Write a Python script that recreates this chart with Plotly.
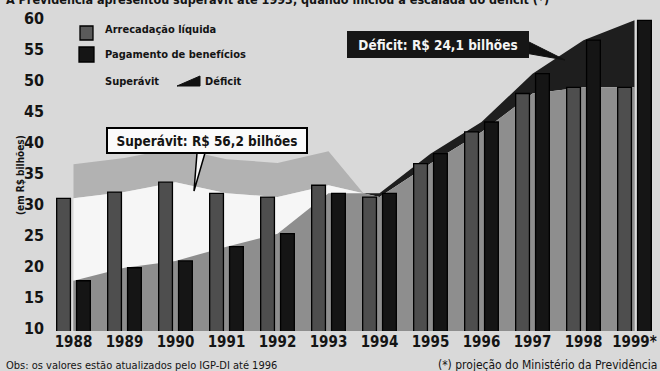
import numpy as np
import plotly.graph_objects as go

# Receita x despesa da Previdência, em R$ bilhões
anos = ["1988", "1989", "1990", "1991", "1992", "1993",
        "1994", "1995", "1996", "1997", "1998", "1999*"]
arrecadacao = [31.0, 32.0, 33.6, 31.8, 31.2, 33.1,
               31.2, 36.6, 41.7, 47.9, 48.9, 48.9]
pagamento = [17.7, 19.8, 20.9, 23.2, 25.3, 31.8,
             31.8, 38.2, 43.3, 51.1, 56.5, 59.7]
y_ticks = [10, 15, 20, 25, 30, 35, 40, 45, 50, 55, 60]

W, H = 660, 371
ML, MR, MT, MB = 48, 0, 11, 40
PW, PH = W - ML - MR, H - MT - MB
Y0, Y1 = 9.6, 61.2
DEPTH = 5.5  # visual thickness of the ribbon's top face, in axis units

FONT = "Liberation Sans Narrow, DejaVu Sans Condensed, Arial Narrow, Liberation Sans, sans-serif"
INK = "#141414"


def px(x):
    return (x - ML) / PW


def py(y):
    return (MT + PH - y) / PH


x = np.arange(len(anos))
arr = np.array(arrecadacao)
pag = np.array(pagamento)

# lower envelope of the two series, with the crossing point added
lx, ly = [], []
cross = None
for i in range(len(x)):
    lx.append(float(x[i]))
    ly.append(float(min(arr[i], pag[i])))
    if i < len(x) - 1:
        d0 = arr[i] - pag[i]
        d1 = arr[i + 1] - pag[i + 1]
        if d0 * d1 < 0:
            t = d0 / (d0 - d1)
            xc = float(x[i] + t)
            yc = float(arr[i] + t * (arr[i + 1] - arr[i]))
            lx.append(xc)
            ly.append(yc)
            if cross is None:
                cross = (i, xc, yc)


def area_path(xs, ys):
    pts = [f"M {xs[0]},{Y0}"] + [f"L {a},{b}" for a, b in zip(xs, ys)] + [f"L {xs[-1]},{Y0} Z"]
    return " ".join(pts)


shapes = []

# shaded top face of the ribbon over the surplus years, closing at the crossing
ci, cx, cy = cross
top_x = [float(v) for v in x[:ci + 1]]
top_y = [float(v) for v in arr[:ci + 1]]
band = [f"M {top_x[0]},{top_y[0]}"] + [f"L {a},{b}" for a, b in zip(top_x[1:], top_y[1:])]
band += [f"L {cx},{cy}"]
band += [f"L {a},{b + DEPTH}" for a, b in zip(top_x[::-1], top_y[::-1])] + ["Z"]
shapes.append(dict(type="path", xref="x", yref="y", layer="below", path=" ".join(band),
                   fillcolor="#b2b2b2", line=dict(width=0)))

# ribbon behind the bars: black where spending exceeds revenue, white where revenue is higher
for xs, ys, col in [(x, pag, "#1e1e1e"), (x, arr, "#f6f6f6"), (lx, ly, "#8e8e8e")]:
    shapes.append(dict(type="path", xref="x", yref="y", layer="below",
                       path=area_path(list(map(float, xs)), list(map(float, ys))),
                       fillcolor=col, line=dict(width=0)))

fig = go.Figure()
fig.add_trace(go.Bar(x=x, y=arr, width=0.27, offset=-0.33,
                     marker=dict(color="#4e4e4e", line=dict(color="#000", width=1.3)),
                     name="Arrecadação líquida"))
fig.add_trace(go.Bar(x=x, y=pag, width=0.27, offset=0.06,
                     marker=dict(color="#151515", line=dict(color="#000", width=1.3)),
                     name="Pagamento de benefícios"))

ann = []


def note(text, xx, yy, **kw):
    d = dict(text=text, x=px(xx), y=py(yy), xref="paper", yref="paper",
             showarrow=False, yanchor="middle")
    d.update(kw)
    ann.append(d)


# title line at the very top
note("<b>A Previdência apresentou superávit até 1993, quando iniciou a escalada do déficit (*)</b>",
     4, 0, xanchor="left", font=dict(size=12.5, color=INK, family=FONT))

# legend
shapes.append(dict(type="rect", xref="paper", yref="paper",
                   x0=px(80), x1=px(93), y0=py(40), y1=py(26),
                   fillcolor="#5a5a5a", line=dict(color="#000", width=1.3)))
shapes.append(dict(type="rect", xref="paper", yref="paper",
                   x0=px(79), x1=px(94), y0=py(62), y1=py(47),
                   fillcolor="#151515", line=dict(color="#000", width=1.3)))
shapes.append(dict(type="path", xref="paper", yref="paper",
                   path=f"M {px(177)},{py(86)} L {px(200)},{py(76)} L {px(200)},{py(86)} Z",
                   fillcolor="#111", line=dict(color="#111", width=1)))
for txt, xx, yy in [("Arrecadação líquida", 103, 30),
                    ("Pagamento de benefícios", 103, 55),
                    ("Superávit", 103, 81),
                    ("Déficit", 203, 81)]:
    note(f"<b>{txt}</b>", xx, yy, xanchor="left", font=dict(size=11, color=INK, family=FONT))

# callouts
shapes.append(dict(type="path", xref="paper", yref="paper",
                   path=f"M {px(197)},{py(153)} L {px(205)},{py(153)} L {px(194)},{py(191)} Z",
                   fillcolor="#f6f6f6", line=dict(color="#000", width=1.5)))
note("<b>Superávit: R$ 56,2 bilhões</b>", 207, 140.5, xanchor="center",
     width=196, height=21, bgcolor="#fbfbfb", bordercolor="#000", borderwidth=2, borderpad=1,
     font=dict(size=13.5, color=INK, family=FONT))
shapes.append(dict(type="path", xref="paper", yref="paper",
                   path=f"M {px(525)},{py(40)} L {px(525)},{py(53)} L {px(565)},{py(60)} Z",
                   fillcolor="#111", line=dict(color="#111", width=1)))
note("<b>Déficit: R$ 24,1 bilhões</b>", 438, 45, xanchor="center",
     width=176, height=21, bgcolor="#161616", bordercolor="#161616", borderwidth=2, borderpad=1,
     font=dict(size=13.5, color="#f4f4f4", family=FONT))

# y axis title
note("<b>(em R$ bilhões)</b>", 20, 175, textangle=-90, xanchor="center",
     font=dict(size=10, color=INK, family=FONT))

# footnotes
note("Obs: os valores estão atualizados pelo IGP-DI até 1996", 4, 365, xanchor="left",
     font=dict(size=11, color=INK, family=FONT))
note("(*) projeção do Ministério da Previdência", 659, 365, xanchor="right",
     font=dict(size=12, color=INK, family=FONT))

fig.update_layout(
    width=W, height=H,
    margin=dict(l=ML, r=MR, t=MT, b=MB, pad=0),
    paper_bgcolor="#d9d9d9", plot_bgcolor="#d9d9d9",
    showlegend=False, barmode="overlay",
    annotations=ann, shapes=shapes,
    xaxis=dict(range=[-0.5, len(anos) - 0.5], tickmode="array", tickvals=list(x),
               ticktext=[f"<b>{a}</b>" for a in anos], showgrid=False, zeroline=False,
               showline=False, ticks="", tickfont=dict(size=15, color=INK, family=FONT)),
    yaxis=dict(range=[Y0, Y1], tickmode="array", tickvals=y_ticks,
               ticktext=[f"<b>{v}</b>" for v in y_ticks], showgrid=False, zeroline=False,
               showline=False, ticks="", ticklabelstandoff=3,
               tickfont=dict(size=16, color=INK, family=FONT)),
)

fig.write_html("out.html")
